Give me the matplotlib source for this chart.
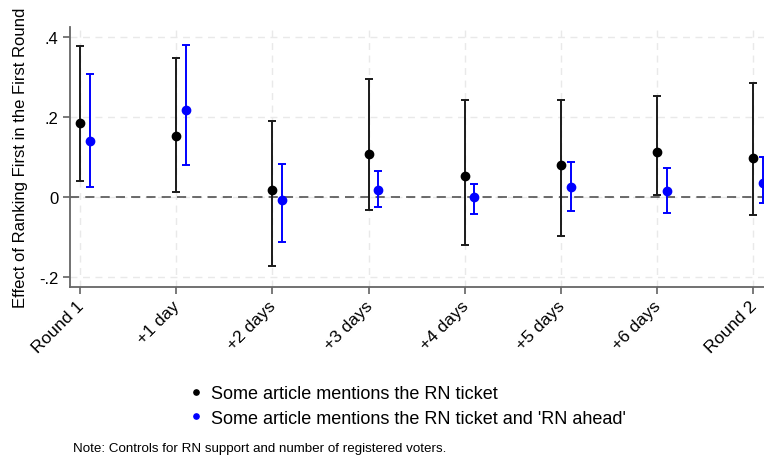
import matplotlib.pyplot as plt
import matplotlib.transforms as mtransforms
from matplotlib.lines import Line2D
import numpy as np

plt.rcParams['font.family'] = ['Liberation Sans', 'DejaVu Sans']

labels = ['Round 1', '+1 day', '+2 days', '+3 days', '+4 days', '+5 days', '+6 days', 'Round 2']

# some article mentions the RN ticket
coef_all = [0.185, 0.154, 0.018, 0.109, 0.054, 0.081, 0.114, 0.098]
lo_all = [0.042, 0.013, -0.171, -0.031, -0.119, -0.097, 0.006, -0.043]
hi_all = [0.378, 0.349, 0.191, 0.295, 0.243, 0.243, 0.253, 0.285]

# some article mentions the RN ticket and 'RN ahead'
coef_ahead = [0.142, 0.218, -0.006, 0.019, 0.000, 0.025, 0.017, 0.035]
lo_ahead = [0.025, 0.082, -0.112, -0.024, -0.042, -0.035, -0.039, -0.014]
hi_ahead = [0.308, 0.381, 0.083, 0.067, 0.033, 0.089, 0.073, 0.100]

fig = plt.figure(figsize=(7.64, 4.60), dpi=100)
W, H = 764, 460
ax = fig.add_axes([70 / W, 172 / H, 722 / W, 260 / H])

x = np.arange(len(labels))
off = 0.1

def draw(xpos, coef, lo, hi, col, lcol):
    coef = np.array(coef)
    err = [coef - np.array(lo), np.array(hi) - coef]
    ax.errorbar(xpos, coef, yerr=err, fmt='none', ecolor=lcol,
                elinewidth=1.4, capsize=2.8, capthick=1.4, zorder=3)
    ax.plot(xpos, coef, 'o', color=col, markersize=6, zorder=4)

draw(x, coef_all, lo_all, hi_all, 'black', '#1a1a1a')
draw(x + off, coef_ahead, lo_ahead, hi_ahead, '#0000ff', '#0000ff')

ax.axhline(0, color='#444444', lw=1.1, ls=(0, (6, 4)), zorder=2)

ax.set_xlim(-0.104, -0.104 + 722 / 96.2)
ax.set_ylim(-0.224, 0.426)
ax.set_yticks([-0.2, 0, 0.2, 0.4])
ax.set_yticklabels(['-.2', '0', '.2', '.4'], fontsize=12)
ax.set_xticks(x)
ax.set_xticklabels(labels, rotation=45, ha='right', rotation_mode='anchor', fontsize=12.5)
ax.tick_params(axis='both', length=5, color='#555555', width=1.1)
ax.tick_params(axis='x', pad=3)

# nudge the slanted labels so their ends sit under the ticks
shift = mtransforms.ScaledTranslation(-4 / 100, 0, fig.dpi_scale_trans)
for lab in ax.get_xticklabels():
    lab.set_transform(lab.get_transform() + shift)

ax.grid(True, color='#e9e9e9', ls=(0, (5, 4)), lw=1.0)
ax.set_axisbelow(True)
for s in ['top', 'right']:
    ax.spines[s].set_visible(False)
for s in ['left', 'bottom']:
    ax.spines[s].set_color('#666666')
    ax.spines[s].set_linewidth(1.3)

ax.set_ylabel('Effect of Ranking First in the First Round', fontsize=12, labelpad=8)

handles = [Line2D([], [], marker='o', color='black', ls='none', markersize=3.8),
           Line2D([], [], marker='o', color='#0000ff', ls='none', markersize=3.8)]
fig.legend(handles, ['Some article mentions the RN ticket',
                     "Some article mentions the RN ticket and 'RN ahead'"],
           loc='upper left', bbox_to_anchor=(190 / W, 1 - 386 / H), frameon=False,
           fontsize=13, handlelength=0.7, handletextpad=0.45, labelspacing=0.42,
           borderaxespad=0, borderpad=0)

fig.text(73 / W, 1 - 449 / H, 'Note: Controls for RN support and number of registered voters.',
         fontsize=9.6, va='center', ha='left')

fig.savefig('out.png', dpi=100)
